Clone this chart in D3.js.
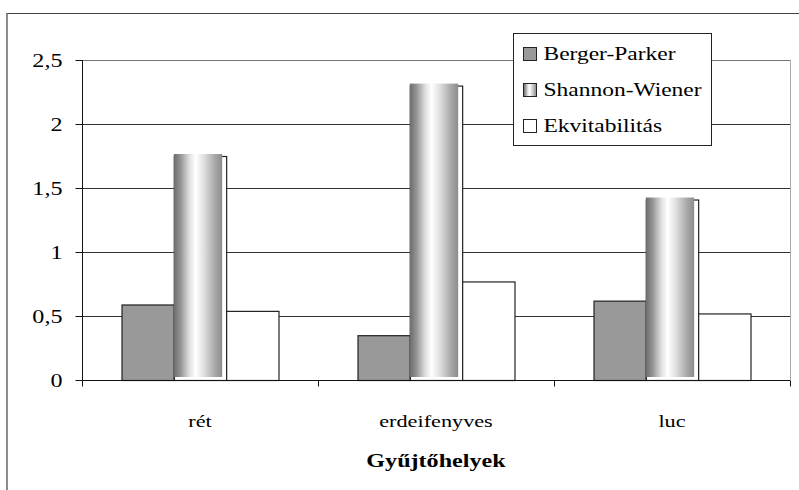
<!DOCTYPE html>
<html>
<head>
<meta charset="utf-8">
<script src="https://cdn.jsdelivr.net/npm/d3@7"></script>
<style>
  html, body { margin: 0; padding: 0; background: #fff; }
  svg { display: block; }
</style>
</head>
<body>
<svg id="chart" width="799" height="490"></svg>
<script>
const categories = ["rét", "erdeifenyves", "luc"];
const seriesNames = ["Berger-Parker", "Shannon-Wiener", "Ekvitabilitás"];
const bergerParker = [0.59, 0.35, 0.62];
const shannonWiener = [1.75, 2.30, 1.41];
const ekvitabilitas = [0.54, 0.77, 0.52];
const yTicks = [0, 0.5, 1, 1.5, 2, 2.5];
const yTickLabels = ["0", "0,5", "1", "1,5", "2", "2,5"];
const xTitle = "Gyűjtőhelyek";

(function () {
const seriesValues = [bergerParker, shannonWiener, ekvitabilitas];
const SX = 1.27; // horizontal text stretch
const FONT = "'Liberation Serif', 'Times New Roman', Tinos, 'DejaVu Serif', serif";

const svg = d3.select("#chart");
const defs = svg.append("defs");
const grad = defs.append("linearGradient").attr("id", "cyl").attr("x1", "0").attr("x2", "1").attr("y1", "0").attr("y2", "0");
[[0, "#6c6c6c"], [0.14, "#959595"], [0.33, "#e2e2e2"], [0.45, "#ffffff"], [0.62, "#e0e0e0"], [0.85, "#a8a8a8"], [1, "#8c8c8c"]]
  .forEach(([o, c]) => grad.append("stop").attr("offset", o).attr("stop-color", c));

const pLeft = 82, pRight = 790, pTop = 60, pBottom = 380;

const x0 = d3.scaleBand().domain(categories).range([pLeft, pRight]).paddingInner(0).paddingOuter(0);
const x1 = d3.scaleBand().domain(seriesNames).range([0, x0.bandwidth()]).paddingInner(0).paddingOuter(0.755);
const y = d3.scaleLinear().domain([0, 2.5]).range([pBottom, pTop]);

function stretchedText(g, x, yy, str, anchor, opts = {}) {
  const t = g.append("text")
    .attr("transform", `translate(${x},${yy}) scale(${SX},1)`)
    .attr("text-anchor", anchor)
    .attr("font-family", FONT)
    .style("font-family", FONT)
    .attr("fill", "#000")
    .style("font-size", (opts.size || 19) + "px")
    .text(str);
  if (opts.bold) t.style("font-weight", "bold");
  return t;
}

// outer frame
svg.append("line").attr("x1", 7).attr("x2", 799).attr("y1", 13.5).attr("y2", 13.5).attr("stroke", "#444").attr("stroke-width", 1.2);
svg.append("line").attr("x1", 7).attr("x2", 7).attr("y1", 13).attr("y2", 490).attr("stroke", "#666").attr("stroke-width", 1.5);

// plot area border (right)
svg.append("line").attr("x1", pRight + 0.5).attr("x2", pRight + 0.5).attr("y1", pTop).attr("y2", pBottom).attr("stroke", "#aaa");

// gridlines
svg.append("g").selectAll("line").data(yTicks.filter(d => d > 0)).join("line")
  .attr("x1", pLeft).attr("x2", pRight)
  .attr("y1", d => Math.round(y(d)) + 0.5).attr("y2", d => Math.round(y(d)) + 0.5)
  .attr("stroke", d => d === 2.5 ? "#777" : "#333").attr("stroke-width", 1);

// bars
const groups = svg.append("g").selectAll("g").data(categories).join("g")
  .attr("transform", d => `translate(${x0(d)},0)`);

groups.each(function (cat, ci) {
  const g = d3.select(this);
  seriesNames.forEach((s, si) => {
    const v = seriesValues[si][ci];
    const bx = x1(s), bw = x1.bandwidth();
    const by = y(v), bh = y(0) - y(v);
    if (si === 1) {
      g.append("rect").attr("x", bx + 0.5).attr("y", by + 0.5).attr("width", bw).attr("height", bh)
        .attr("fill", "#fff").attr("stroke", "#222").attr("stroke-width", 1.2);
      g.append("rect").attr("x", bx).attr("y", by - 2).attr("width", bw - 4).attr("height", bh - 1)
        .attr("fill", "url(#cyl)");
    } else {
      g.append("rect").attr("x", bx + 0.5).attr("y", by + 0.5).attr("width", bw).attr("height", bh)
        .attr("fill", si === 0 ? "#999999" : "#ffffff").attr("stroke", "#222").attr("stroke-width", 1.2);
    }
  });
});

// y axis
const yAxis = svg.append("g").attr("transform", `translate(${pLeft + 0.5},0)`);
yAxis.append("line").attr("x1", 0).attr("x2", 0).attr("y1", pTop).attr("y2", pBottom).attr("stroke", "#111");
yTicks.forEach((t, i) => {
  const yy = Math.round(y(t)) + 0.5;
  yAxis.append("line").attr("x1", -7).attr("x2", 0).attr("y1", yy).attr("y2", yy).attr("stroke", "#111");
  stretchedText(yAxis, -20, yy + 6, yTickLabels[i], "end");
});

// x axis
const xAxis = svg.append("g").attr("transform", `translate(0,${pBottom + 0.5})`);
xAxis.append("line").attr("x1", pLeft).attr("x2", pRight).attr("y1", 0).attr("y2", 0).attr("stroke", "#111");
const boundaries = categories.map(c => x0(c)).concat([pRight]);
boundaries.forEach(b => {
  xAxis.append("line").attr("x1", Math.round(b) + 0.5).attr("x2", Math.round(b) + 0.5).attr("y1", 0).attr("y2", 6).attr("stroke", "#111");
});
categories.forEach(c => {
  stretchedText(xAxis, x0(c) + x0.bandwidth() / 2, 46, c, "middle", { size: 17.5 });
});

// x title
stretchedText(svg, x0("erdeifenyves") + x0.bandwidth() / 2, 467, xTitle, "middle", { bold: true, size: 19 });

// legend
const lg = svg.append("g").attr("transform", "translate(513.5,33.5)");
lg.append("rect").attr("width", 198).attr("height", 112).attr("fill", "#fff").attr("stroke", "#222");
const swFill = ["#999999", "url(#cyl)", "#ffffff"];
seriesNames.forEach((s, i) => {
  const cy = 20 + i * 36;
  lg.append("rect").attr("x", 10).attr("y", cy - 6).attr("width", 13).attr("height", 13)
    .attr("fill", swFill[i]).attr("stroke", "#222");
  stretchedText(lg, 30, cy + 6, s, "start", { size: 18.5 });
});
})();
</script>
</body>
</html>
